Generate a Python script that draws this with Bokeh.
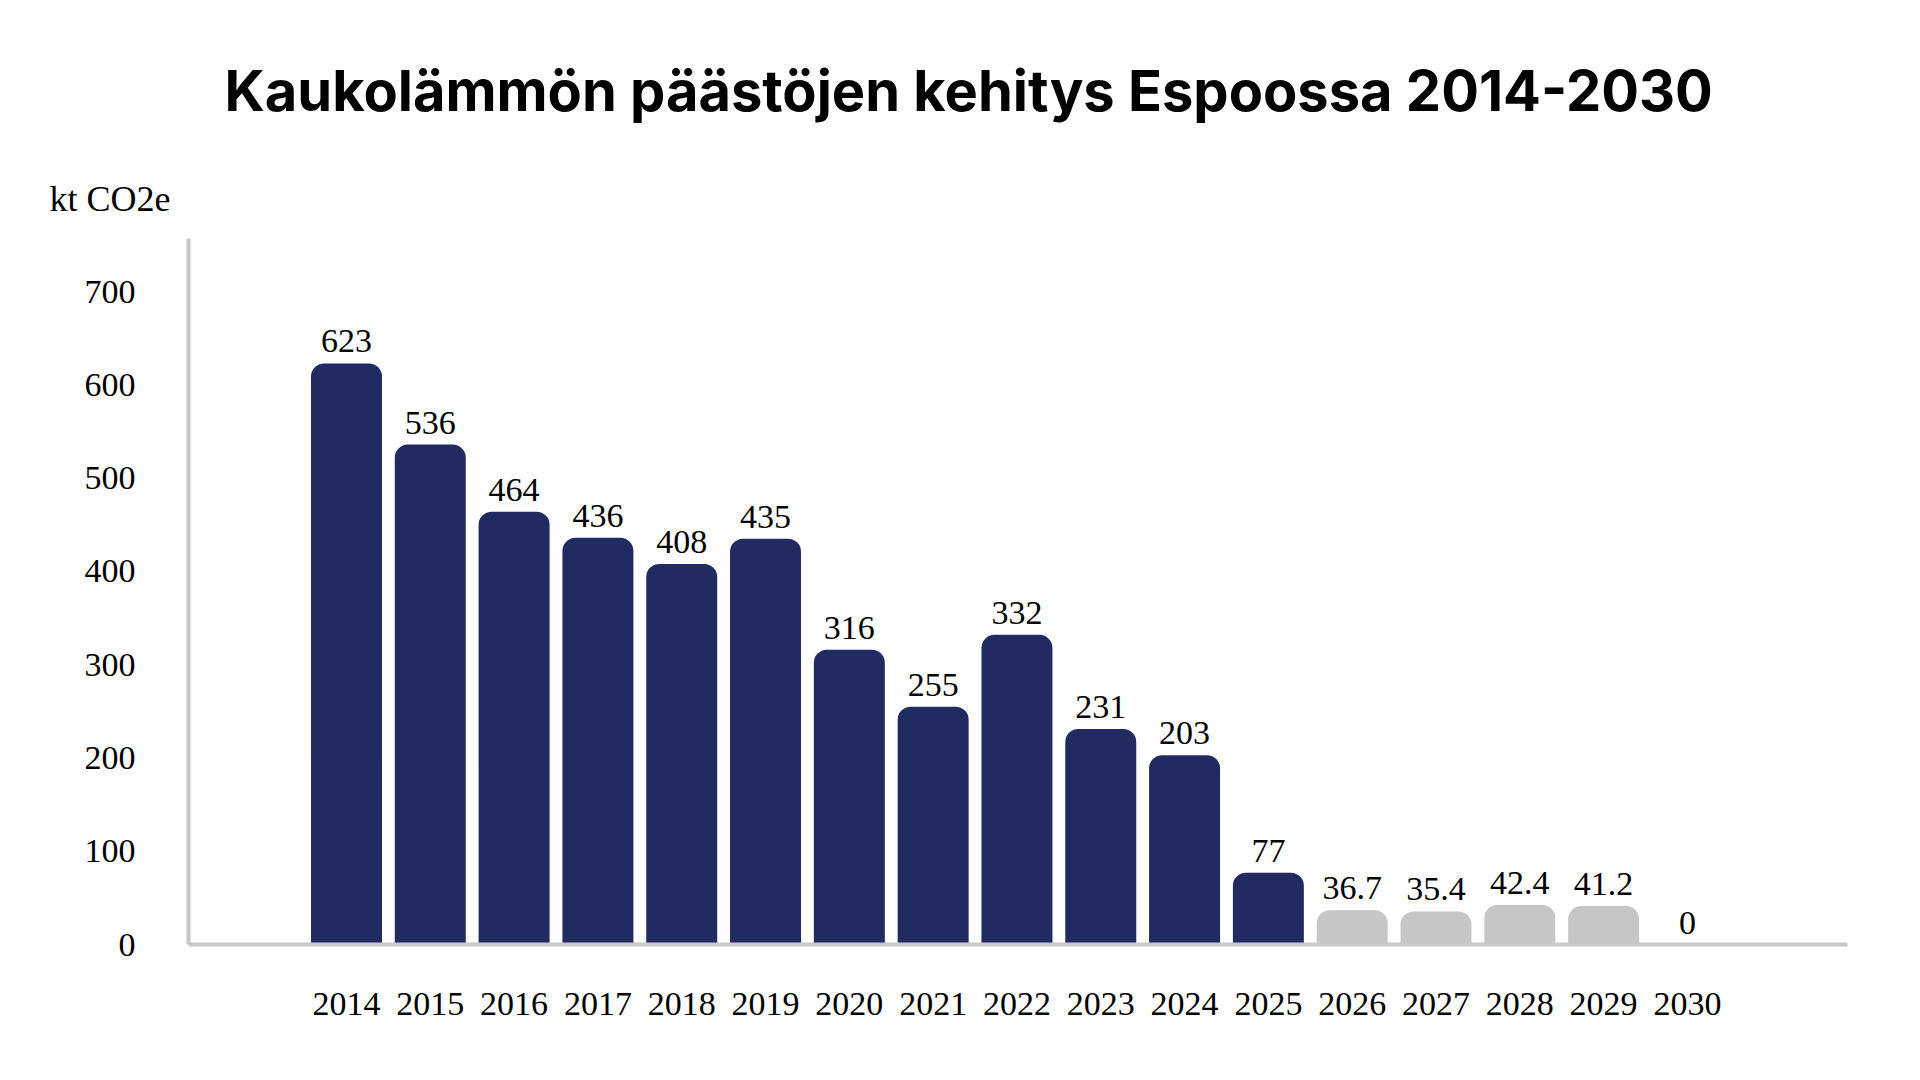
from bokeh.plotting import figure
from bokeh.models import Range1d, FixedTicker, Title, ColumnDataSource
from bokeh.core.properties import value
from bokeh.embed import file_html
from bokeh.resources import INLINE

years = ["2014", "2015", "2016", "2017", "2018", "2019", "2020", "2021", "2022",
         "2023", "2024", "2025", "2026", "2027", "2028", "2029", "2030"]
emissions = [623, 536, 464, 436, 408, 435, 316, 255, 332, 231, 203, 77,
             36.7, 35.4, 42.4, 41.2, 0]
kind = ["toteuma"] * 12 + ["ennuste"] * 5
y_ticks = [0, 100, 200, 300, 400, 500, 600, 700]

title_text = "Kaukolämmön päästöjen kehitys Espoossa 2014-2030"
unit_text = "kt CO2e"

NAVY = "#222B61"
GRAY = "#C6C6C6"
SERIF = "Liberation Serif"

idx = list(range(len(years)))
colors = [NAVY if k == "toteuma" else GRAY for k in kind]
labels = [f"{v:g}" for v in emissions]

src = ColumnDataSource(dict(x=idx, top=emissions, color=colors, label=labels))

p = figure(width=1904, height=1064, output_backend="svg", toolbar_location=None,
           x_range=Range1d(-1.885, len(years) - 1 + 1.91), y_range=Range1d(0, 757),
           min_border_left=188, min_border_right=57, min_border_top=238,
           min_border_bottom=120)
p.background_fill_color = "white"
p.border_fill_color = "white"
p.outline_line_color = None
p.grid.visible = False

p.vbar(x="x", top="top", width=0.847, bottom=0, fill_color="color",
       line_color=None, border_radius=(13, 13, 0, 0), source=src)

p.text(x="x", y="top", text="label", source=src, text_font=value(SERIF),
       text_font_size="34px", text_align="center", text_baseline="alphabetic",
       y_offset=-22, text_color="black")

for ax in (p.xaxis[0], p.yaxis[0]):
    ax.axis_line_color = "#C8C8C8"
    ax.axis_line_width = 4
    ax.major_tick_line_color = None
    ax.minor_tick_line_color = None
    ax.major_tick_in = 0
    ax.major_tick_out = 0
    ax.major_label_text_font = SERIF
    ax.major_label_text_font_size = "34px"
    ax.major_label_text_color = "black"

p.xaxis.ticker = FixedTicker(ticks=idx)
p.xaxis.major_label_overrides = {i: y for i, y in zip(idx, years)}
p.xaxis.major_label_standoff = 48
p.yaxis.ticker = FixedTicker(ticks=y_ticks)
p.yaxis.major_label_standoff = 53

p.add_layout(Title(text=unit_text, text_font=SERIF, text_font_size="36px",
                   text_font_style="normal", align="left", offset=-139,
                   standoff=39, text_color="black"), "above")
p.add_layout(Title(text=title_text, text_font="Inter", text_font_size="56px",
                   text_font_style="bold", align="left", offset=36,
                   standoff=65, text_color="black"), "above")

open("out.html", "w").write(file_html(p, INLINE))
